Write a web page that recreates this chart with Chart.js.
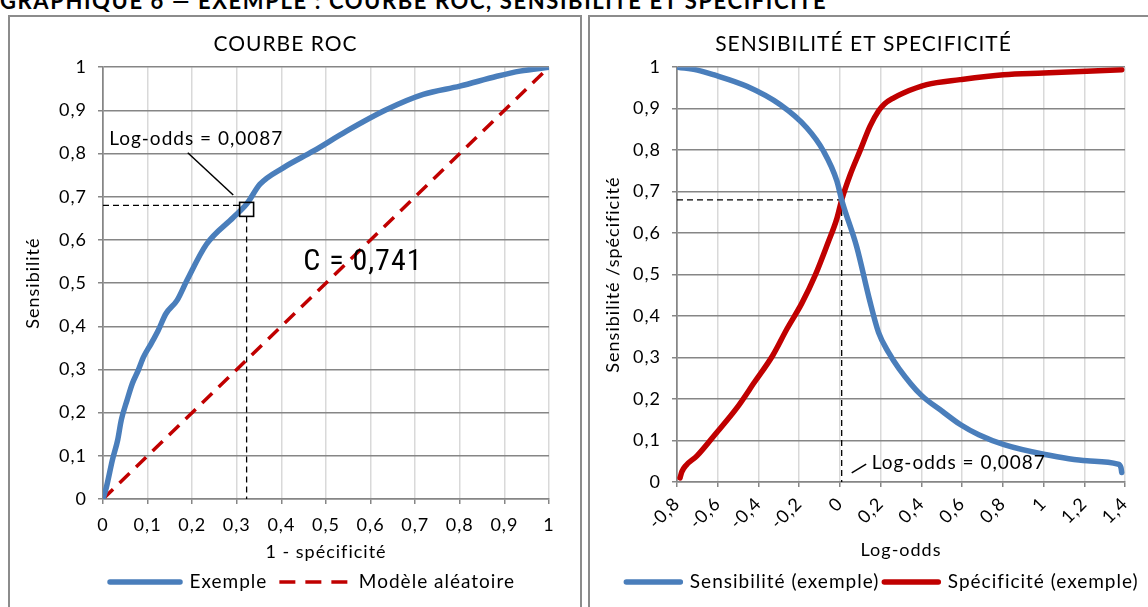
<!DOCTYPE html>
<html lang="fr">
<head>
<meta charset="utf-8">
<title>Courbe ROC, sensibilité et spécificité</title>
<script src="https://cdn.jsdelivr.net/npm/chart.js@4.4.1/dist/chart.umd.min.js"></script>
<style>
  body { margin: 0; width: 1148px; height: 607px; overflow: hidden; background: #fff; position: relative; font-family: Lato, sans-serif; }
  .headline { position: absolute; left: 0; top: -9.5px; font: bold 22px/20px Lato, sans-serif; letter-spacing: 1.6px; white-space: nowrap; color: #000; }
  .panel { position: absolute; top: 15px; height: 620px; border: 2px solid #8c8c8c; box-sizing: border-box; }
  #panelRoc { left: 8px; width: 574px; }
  #panelSens { left: 588px; width: 580px; }
  canvas { position: absolute; }
  #roc { left: 10px; top: 17px; }
  #sens { left: 590px; top: 17px; }
</style>
</head>
<body>
<div class="headline">GRAPHIQUE 6 — EXEMPLE : COURBE ROC, SENSIBILITÉ ET SPÉCIFICITÉ</div>
<div class="panel" id="panelRoc"></div>
<div class="panel" id="panelSens"></div>
<canvas id="roc" width="570" height="590"></canvas>
<canvas id="sens" width="558" height="590"></canvas>

<script>
// courbe ROC : 1 - spécificité / sensibilité
let rocFpr = [0, 0.008, 0.021, 0.033, 0.041, 0.054, 0.066, 0.079, 0.091, 0.108, 0.124, 0.141, 0.166, 0.188,
    0.232, 0.292, 0.322, 0.352, 0.404, 0.472, 0.546, 0.636, 0.718, 0.8, 0.883, 0.935, 1];
let rocTpr = [0, 0.029, 0.09, 0.137, 0.183, 0.229, 0.268, 0.298, 0.329, 0.36, 0.391, 0.429, 0.46, 0.506,
    0.59, 0.652, 0.683, 0.729, 0.767, 0.806, 0.852, 0.902, 0.937, 0.956, 0.979, 0.991, 1];
let randomX = [0, 1];
let randomY = [0, 1];

// sensibilité selon le seuil (log-odds)
let sensLogOdds = [-0.794, -0.7, -0.621, -0.457, -0.294, -0.163, -0.081, -0.015, 0.0087, 0.083, 0.145, 0.19,
    0.238, 0.291, 0.398, 0.504, 0.593, 0.682, 0.806, 1.001, 1.214, 1.365, 1.38, 1.384];
let sensValues = [1.0, 0.993, 0.982, 0.954, 0.91, 0.854, 0.798, 0.726, 0.68, 0.566, 0.44, 0.36,
    0.313, 0.273, 0.21, 0.17, 0.138, 0.114, 0.09, 0.067, 0.051, 0.043, 0.035, 0.023];

// spécificité selon le seuil (log-odds)
let specLogOdds = [-0.785, -0.776, -0.756, -0.702, -0.614, -0.507, -0.419, -0.33, -0.259, -0.188, -0.12, -0.06,
    -0.015, 0.0087, 0.05, 0.1, 0.148, 0.19, 0.22, 0.26, 0.312, 0.426, 0.59, 0.803, 0.999, 1.212, 1.384];
let specValues = [0.01, 0.025, 0.04, 0.063, 0.114, 0.178, 0.241, 0.305, 0.37, 0.43, 0.5, 0.575,
    0.635, 0.68, 0.74, 0.8, 0.858, 0.895, 0.912, 0.925, 0.938, 0.958, 0.97, 0.982, 0.986, 0.99, 0.994];

let cutLogOdds = 0.0087;   // seuil retenu
let cutFpr = 0.322;        // 1 - spécificité au seuil
let cutSens = 0.68;        // sensibilité au seuil
let aucValue = 0.741;

let unitTicks = [0, 1, 0.1];          // min, max, pas
let logOddsTicks = [-0.8, 1.4, 0.2];

const BLUE = '#4a7ebb';
const RED = '#c00000';
const DARK = '#868686';
const LIGHT = '#d9d9d9';
const FONT = 'Lato, sans-serif';

function frNum(v) {
    let r = Math.round(v * 10) / 10;
    if (r === 0) r = 0;
    return r.toString().replace('.', ',');
}

function zip(xs, ys) {
    return xs.map((x, i) => ({x: x, y: ys[i]}));
}

function dashed(ctx, x1, y1, x2, y2) {
    ctx.save();
    ctx.strokeStyle = '#000';
    ctx.lineWidth = 1.3;
    ctx.setLineDash([6, 4]);
    ctx.beginPath();
    ctx.moveTo(x1, y1);
    ctx.lineTo(x2, y2);
    ctx.stroke();
    ctx.restore();
}

function solid(ctx, x1, y1, x2, y2) {
    ctx.save();
    ctx.strokeStyle = '#000';
    ctx.lineWidth = 1.5;
    ctx.beginPath();
    ctx.moveTo(x1, y1);
    ctx.lineTo(x2, y2);
    ctx.stroke();
    ctx.restore();
}

function label(ctx, text, x, y, font, align) {
    ctx.save();
    ctx.font = font;
    ctx.fillStyle = '#000';
    ctx.textAlign = align;
    ctx.textBaseline = 'middle';
    ctx.fillText(text, x, y);
    ctx.restore();
}

let cutText = 'Log-odds = ' + cutLogOdds.toString().replace('.', ',');

// texte un peu espacé, et légende décalée vers le centre du graphique
function spacing(shift) {
    return {
        id: 'spacing',
        beforeUpdate(chart) { chart.ctx.letterSpacing = '1px'; },
        beforeDraw(chart) { chart.ctx.letterSpacing = '1px'; },
        afterLayout(chart) {
            chart.legend.left += shift;
            chart.legend.right += shift;
        }
    };
}

// repères sur la courbe ROC
let rocMarks = {
    id: 'rocMarks',
    beforeDatasetsDraw(chart) {
        let ctx = chart.ctx, x = chart.scales.x, y = chart.scales.y;
        let px = x.getPixelForValue(cutFpr), py = y.getPixelForValue(cutSens);
        dashed(ctx, x.getPixelForValue(0), py, px - 7, py);
        dashed(ctx, px, py + 11, px, y.getPixelForValue(0));
    },
    afterDatasetsDraw(chart) {
        let ctx = chart.ctx, x = chart.scales.x, y = chart.scales.y;
        let px = x.getPixelForValue(cutFpr), py = y.getPixelForValue(cutSens);
        ctx.save();
        ctx.strokeStyle = '#000';
        ctx.lineWidth = 1.6;
        ctx.strokeRect(px - 7, py - 3, 14, 14);
        ctx.restore();
        solid(ctx, x.getPixelForValue(0.19), y.getPixelForValue(0.802), x.getPixelForValue(0.292), y.getPixelForValue(0.704));
        label(ctx, cutText, x.getPixelForValue(0.209), y.getPixelForValue(0.834), '19px ' + FONT, 'center');
        label(ctx, 'C = ' + aucValue.toString().replace('.', ','), x.getPixelForValue(0.449), y.getPixelForValue(0.548),
            '30px "Liberation Sans Narrow", "Roboto Condensed", Roboto, sans-serif', 'left');
    }
};

// repères sur les courbes sensibilité / spécificité
let sensMarks = {
    id: 'sensMarks',
    beforeDatasetsDraw(chart) {
        let ctx = chart.ctx, x = chart.scales.x, y = chart.scales.y;
        let px = x.getPixelForValue(cutLogOdds), py = y.getPixelForValue(cutSens);
        dashed(ctx, x.getPixelForValue(logOddsTicks[0]), py, px, py);
        dashed(ctx, px, py, px, y.getPixelForValue(0));
    },
    afterDatasetsDraw(chart) {
        let ctx = chart.ctx, x = chart.scales.x, y = chart.scales.y;
        solid(ctx, x.getPixelForValue(0.058), y.getPixelForValue(0.022), x.getPixelForValue(0.129), y.getPixelForValue(0.043));
        label(ctx, cutText, x.getPixelForValue(0.156), y.getPixelForValue(0.045), '19px ' + FONT, 'left');
    }
};

function axisTitle(text, pad) {
    return { display: true, text: text, color: '#000', font: {family: FONT, size: 18}, padding: pad };
}

// échantillons de ligne : on reprend le pointillé et l'épaisseur des séries
function lineLabels(chart) {
    let items = Chart.defaults.plugins.legend.labels.generateLabels(chart);
    items.forEach((item, i) => {
        let ds = chart.data.datasets[i];
        item.lineWidth = ds.borderWidth;
        item.lineDash = ds.borderDash ? [16, 10] : [];
        item.lineCap = ds.borderDash ? 'butt' : 'round';
    });
    return items;
}

function legendOpts(pad, lineW) {
    return {
        position: 'bottom',
        labels: {
            usePointStyle: true, pointStyle: 'line', pointStyleWidth: lineW,
            padding: pad, color: '#000', font: {family: FONT, size: 19},
            generateLabels: lineLabels
        }
    };
}

function titleOpts(text) {
    return { display: true, text: text, color: '#000', font: {family: FONT, size: 21, weight: 'normal'}, padding: {top: 15, bottom: 10} };
}

new Chart(document.getElementById('roc'), {
    type: 'scatter',
    data: {
        datasets: [{
            label: 'Exemple',
            data: zip(rocFpr, rocTpr),
            showLine: true, borderColor: BLUE, backgroundColor: BLUE, borderWidth: 5.5,
            borderCapStyle: 'round', borderJoinStyle: 'round', cubicInterpolationMode: 'monotone',
            pointRadius: 0, pointHoverRadius: 0
        }, {
            label: 'Modèle aléatoire',
            data: zip(randomX, randomY),
            showLine: true, borderColor: RED, backgroundColor: RED, borderWidth: 3.5,
            borderDash: [14, 9], pointRadius: 0, pointHoverRadius: 0
        }]
    },
    options: {
        responsive: false, animation: false, devicePixelRatio: 1,
        layout: { padding: {left: 12, right: 31, top: 0, bottom: 5.5} },
        plugins: {
            title: titleOpts('COURBE ROC'),
            legend: legendOpts(12, 70),
            tooltip: {enabled: false}
        },
        scales: {
            x: {
                type: 'linear', min: unitTicks[0], max: unitTicks[1],
                ticks: {stepSize: unitTicks[2], callback: frNum, color: '#000', font: {family: FONT, size: 18}, padding: 10, maxRotation: 0},
                grid: {color: c => (c.tick && c.tick.value === 0 ? DARK : LIGHT), lineWidth: 1.5, tickColor: DARK, tickLength: 5},
                border: {color: DARK, width: 1.5},
                title: axisTitle('1 - spécificité', {top: 0, bottom: -2}),
                afterFit: s => { s.height = 61.5; }
            },
            y: {
                type: 'linear', min: unitTicks[0], max: unitTicks[1],
                ticks: {stepSize: unitTicks[2], callback: frNum, color: '#000', font: {family: FONT, size: 18}, padding: 11},
                grid: {color: DARK, lineWidth: 1.5, tickLength: 5},
                border: {color: DARK, width: 1.5},
                title: axisTitle('Sensibilité', {top: 0, bottom: 0}),
                afterFit: s => { s.width = 81; }
            }
        }
    },
    plugins: [spacing(27), rocMarks]
});

new Chart(document.getElementById('sens'), {
    type: 'scatter',
    data: {
        datasets: [{
            label: 'Sensibilité (exemple)',
            data: zip(sensLogOdds, sensValues),
            showLine: true, borderColor: BLUE, backgroundColor: BLUE, borderWidth: 5.5,
            borderCapStyle: 'round', borderJoinStyle: 'round', cubicInterpolationMode: 'monotone',
            pointRadius: 0, pointHoverRadius: 0
        }, {
            label: 'Spécificité (exemple)',
            data: zip(specLogOdds, specValues),
            showLine: true, borderColor: RED, backgroundColor: RED, borderWidth: 5.5,
            borderCapStyle: 'round', borderJoinStyle: 'round', cubicInterpolationMode: 'monotone',
            pointRadius: 0, pointHoverRadius: 0
        }]
    },
    options: {
        responsive: false, animation: false, devicePixelRatio: 1,
        layout: { padding: {left: 12, right: 23, top: 0, bottom: 5.5} },
        plugins: {
            title: titleOpts('SENSIBILITÉ ET SPECIFICITÉ'),
            legend: legendOpts(5, 54),
            tooltip: {enabled: false}
        },
        scales: {
            x: {
                type: 'linear', min: logOddsTicks[0], max: logOddsTicks[1],
                ticks: {stepSize: logOddsTicks[2], callback: frNum, color: '#000', font: {family: FONT, size: 18}, padding: 6, minRotation: 45, maxRotation: 45},
                grid: {color: c => (c.tick && Math.abs(c.tick.value - logOddsTicks[0]) < 1e-9 ? DARK : LIGHT), lineWidth: 1.5, tickColor: DARK, tickLength: 5},
                border: {color: DARK, width: 1.5},
                title: axisTitle('Log-odds', {top: 0, bottom: 6.7}),
                afterFit: s => { s.height = 85.5; }
            },
            y: {
                type: 'linear', min: unitTicks[0], max: unitTicks[1],
                ticks: {stepSize: unitTicks[2], callback: frNum, color: '#000', font: {family: FONT, size: 18}, padding: 11},
                grid: {color: DARK, lineWidth: 1.5, tickLength: 5},
                border: {color: DARK, width: 1.5},
                title: axisTitle('Sensibilité /spécificité', {top: 0, bottom: 0}),
                afterFit: s => { s.width = 75; }
            }
        }
    },
    plugins: [spacing(19), sensMarks]
});
</script>
</body>
</html>
